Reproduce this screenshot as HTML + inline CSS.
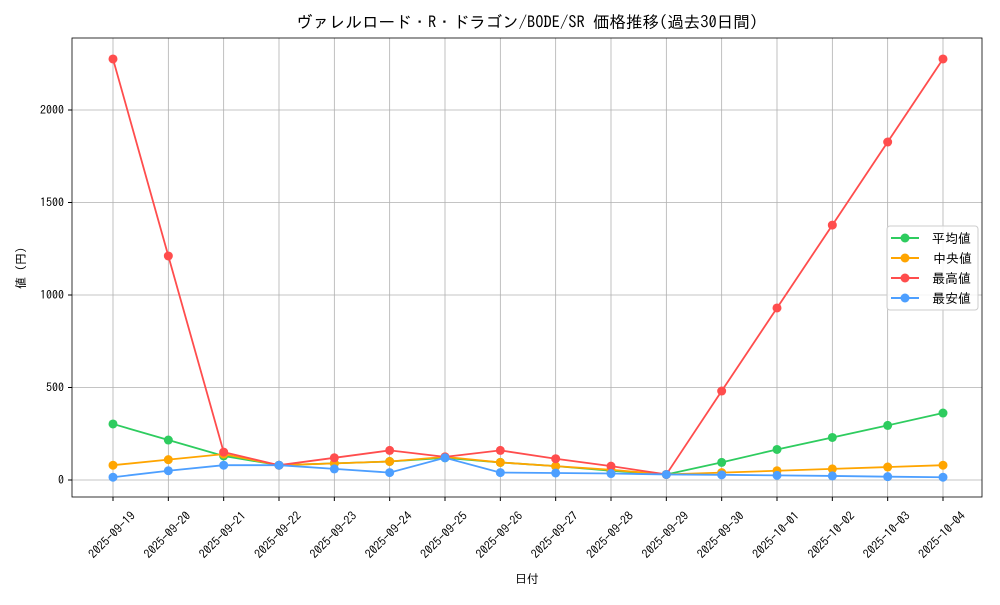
<!DOCTYPE html>
<html><head><meta charset="utf-8"><style>
body{margin:0;background:#fff}
svg text{font-family:"IPAGothic","Liberation Sans","Noto Sans CJK JP",sans-serif;fill:#000}
</style></head><body>
<svg id="s" width="1000" height="600" xmlns="http://www.w3.org/2000/svg">
<rect width="1000" height="600" fill="#fff"/>
<g id="grid" stroke="#b0b0b0" stroke-width="0.8"></g>
<rect x="72" y="38" width="910" height="459" fill="none" stroke="#000" stroke-width="0.8"/>
<g id="ticks"></g>
<g id="series"></g>
<text x="527" y="28" font-size="16.5" text-anchor="middle">ヴァレルロード・R・ドラゴン/BODE/SR 価格推移(過去30日間)</text>
<text x="527" y="583" font-size="12" text-anchor="middle">日付</text>
<text transform="translate(25,268) rotate(-90)" font-size="12" text-anchor="middle">値 (円)</text>
<rect x="887" y="226" width="91" height="84" rx="3" fill="#fff" fill-opacity="0.85" stroke="#ccc"/>
<g font-size="13">
<line x1="891" y1="238" x2="919" y2="238" stroke="#2ecc5f" stroke-width="2"/><circle cx="905" cy="238" r="4.5" fill="#2ecc5f"/><text x="932" y="243">平均値</text>
<line x1="891" y1="258" x2="919" y2="258" stroke="#ffa500" stroke-width="2"/><circle cx="905" cy="258" r="4.5" fill="#ffa500"/><text x="933" y="263">中央値</text>
<line x1="891" y1="278" x2="919" y2="278" stroke="#ff4d4d" stroke-width="2"/><circle cx="905" cy="278" r="4.5" fill="#ff4d4d"/><text x="932" y="283">最高値</text>
<line x1="891" y1="298" x2="919" y2="298" stroke="#4d9fff" stroke-width="2"/><circle cx="905" cy="298" r="4.5" fill="#4d9fff"/><text x="932" y="303">最安値</text>
</g>
</svg>
<script>
const NS="http://www.w3.org/2000/svg";
function el(p,t,a,txt){const e=document.createElementNS(NS,t);for(const k in a)e.setAttribute(k,a[k]);if(txt!==undefined)e.textContent=txt;p.appendChild(e);return e;}
const X=i=>113+i*(830/15), Y=v=>480-0.185*v;
const dates=["2025-09-19","2025-09-20","2025-09-21","2025-09-22","2025-09-23","2025-09-24","2025-09-25","2025-09-26","2025-09-27","2025-09-28","2025-09-29","2025-09-30","2025-10-01","2025-10-02","2025-10-03","2025-10-04"];
const g=document.getElementById("grid"),t=document.getElementById("ticks"),s=document.getElementById("series");
dates.forEach((d,i)=>{const x=X(i);el(g,"line",{x1:x,y1:38,x2:x,y2:497});el(t,"line",{x1:x,y1:497,x2:x,y2:501,stroke:"#000"});
el(t,"text",{transform:`translate(${x-1},${535}) rotate(-45)`,"font-size":"12","text-anchor":"middle","dominant-baseline":"central"},d);});
[0,500,1000,1500,2000].forEach(v=>{const y=Y(v);el(g,"line",{x1:72,y1:y,x2:982,y2:y});el(t,"line",{x1:68,y1:y,x2:72,y2:y,stroke:"#000"});
el(t,"text",{x:64,y:y+4,"font-size":"12","text-anchor":"end"},v);});
const data=[
["#2ecc5f",[303,216,130,80,90,100,120,95,75,50,30,95,165,230,295,362]],
["#ffa500",[80,110,140,80,90,100,125,95,75,55,30,40,50,60,70,80]],
["#ff4d4d",[2276,1211,151,80,120,160,125,160,115,75,30,481,930,1378,1827,2276]],
["#4d9fff",[15,50,80,80,60,40,120,40,38,35,30,28,25,22,18,15]]];
data.forEach(([c,vals])=>{el(s,"polyline",{points:vals.map((v,i)=>X(i)+","+Y(v)).join(" "),fill:"none",stroke:c,"stroke-width":"1.8"});
vals.forEach((v,i)=>el(s,"circle",{cx:X(i),cy:Y(v),r:4.5,fill:c}));});
</script>
</body></html>
